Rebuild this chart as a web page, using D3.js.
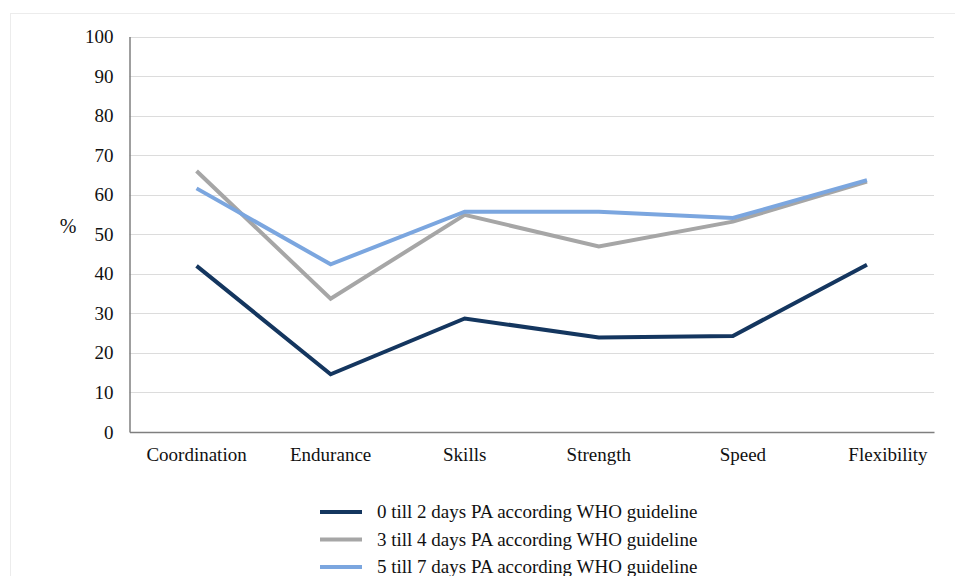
<!DOCTYPE html>
<html>
<head>
<meta charset="utf-8">
<script src="https://cdn.jsdelivr.net/npm/d3@7"></script>
<style>
  body { margin: 0; background: #fff; }
  text { font-family: "Liberation Serif", "Times New Roman", serif; fill: #111; }
</style>
</head>
<body>
<svg id="chart" width="955" height="576"></svg>
<script>
var categories = ["Coordination", "Endurance", "Skills", "Strength", "Speed", "Flexibility"];
var seriesNames = [
    "0 till 2 days PA according WHO guideline",
    "3 till 4 days PA according WHO guideline",
    "5 till 7 days PA according WHO guideline"
];
var days0to2 = [42.0, 14.6, 28.7, 23.9, 24.3, 42.3];
var days3to4 = [66.0, 33.7, 54.9, 46.9, 53.2, 63.3];
var days5to7 = [61.6, 42.4, 55.7, 55.7, 54.1, 63.7];
var seriesColors = ["#14365f", "#a6a6a6", "#7ba6df"];
var yTicks = [0, 10, 20, 30, 40, 50, 60, 70, 80, 90, 100];

var svg = d3.select("#chart");

// light outer frame
svg.append("rect")
    .attr("x", 10.5).attr("y", 13.5)
    .attr("width", 960).attr("height", 600)
    .attr("fill", "none")
    .attr("stroke", "#ececec");

var plotLeft = 129.5, plotRight = 934, plotTop = 36.5, plotBottom = 432;

var xScale = d3.scaleBand().domain(categories).range([plotLeft, plotRight]);
var yScale = d3.scaleLinear().domain([0, 100]).range([plotBottom, plotTop]);

// gridlines
svg.append("g")
    .selectAll("line")
    .data(yTicks.filter(d => d > 0))
    .enter().append("line")
    .attr("x1", plotLeft).attr("x2", plotRight)
    .attr("y1", d => Math.round(yScale(d)) + 0.5)
    .attr("y2", d => Math.round(yScale(d)) + 0.5)
    .attr("stroke", "#dcdcdc")
    .attr("stroke-width", 1);

// y axis
var yAxis = svg.append("g")
    .attr("transform", "translate(" + plotLeft + ",0)")
    .call(d3.axisLeft(yScale).tickValues(yTicks).tickSize(0).tickPadding(16));
yAxis.select(".domain").attr("stroke", "#7f7f7f").attr("stroke-width", 1.5);
yAxis.selectAll("text").style("font-size", "19px").attr("fill", "#111");

// x axis
var xAxis = svg.append("g")
    .attr("transform", "translate(0," + plotBottom + ")")
    .call(d3.axisBottom(xScale).tickSize(0).tickPadding(16));
xAxis.select(".domain").attr("stroke", "#7f7f7f").attr("stroke-width", 1.5);
xAxis.selectAll("text").style("font-size", "19px").attr("fill", "#111");
// the last two labels sit a bit right of their points in the source
xAxis.selectAll("text")
    .filter(d => d === "Speed").attr("dx", 10);
xAxis.selectAll("text")
    .filter(d => d === "Flexibility").attr("dx", 21);

// y label
svg.append("text")
    .attr("x", 68).attr("y", 233)
    .attr("text-anchor", "middle")
    .style("font-size", "20px")
    .text("%");

var line = d3.line()
    .x(function (d, i) { return xScale(categories[i]) + xScale.bandwidth() / 2; })
    .y(function (d) { return yScale(d); });

var allSeries = [days0to2, days3to4, days5to7];

// dark first, light blue on top like the source
[0, 1, 2].forEach(function (k) {
    svg.append("path")
        .datum(allSeries[k])
        .attr("fill", "none")
        .attr("stroke", seriesColors[k])
        .attr("stroke-width", 4)
        .attr("d", line);
});

// legend
var legend = svg.append("g")
    .selectAll("g")
    .data(seriesNames)
    .enter().append("g")
    .attr("transform", function (d, i) { return "translate(320," + (512 + i * 27.5) + ")"; });

legend.append("line")
    .attr("x1", 0).attr("x2", 42)
    .attr("y1", 0).attr("y2", 0)
    .attr("stroke", (d, i) => seriesColors[i])
    .attr("stroke-width", 4);

legend.append("text")
    .attr("x", 57).attr("y", 6)
    .style("font-size", "19px")
    .text(d => d);
</script>
</body>
</html>
